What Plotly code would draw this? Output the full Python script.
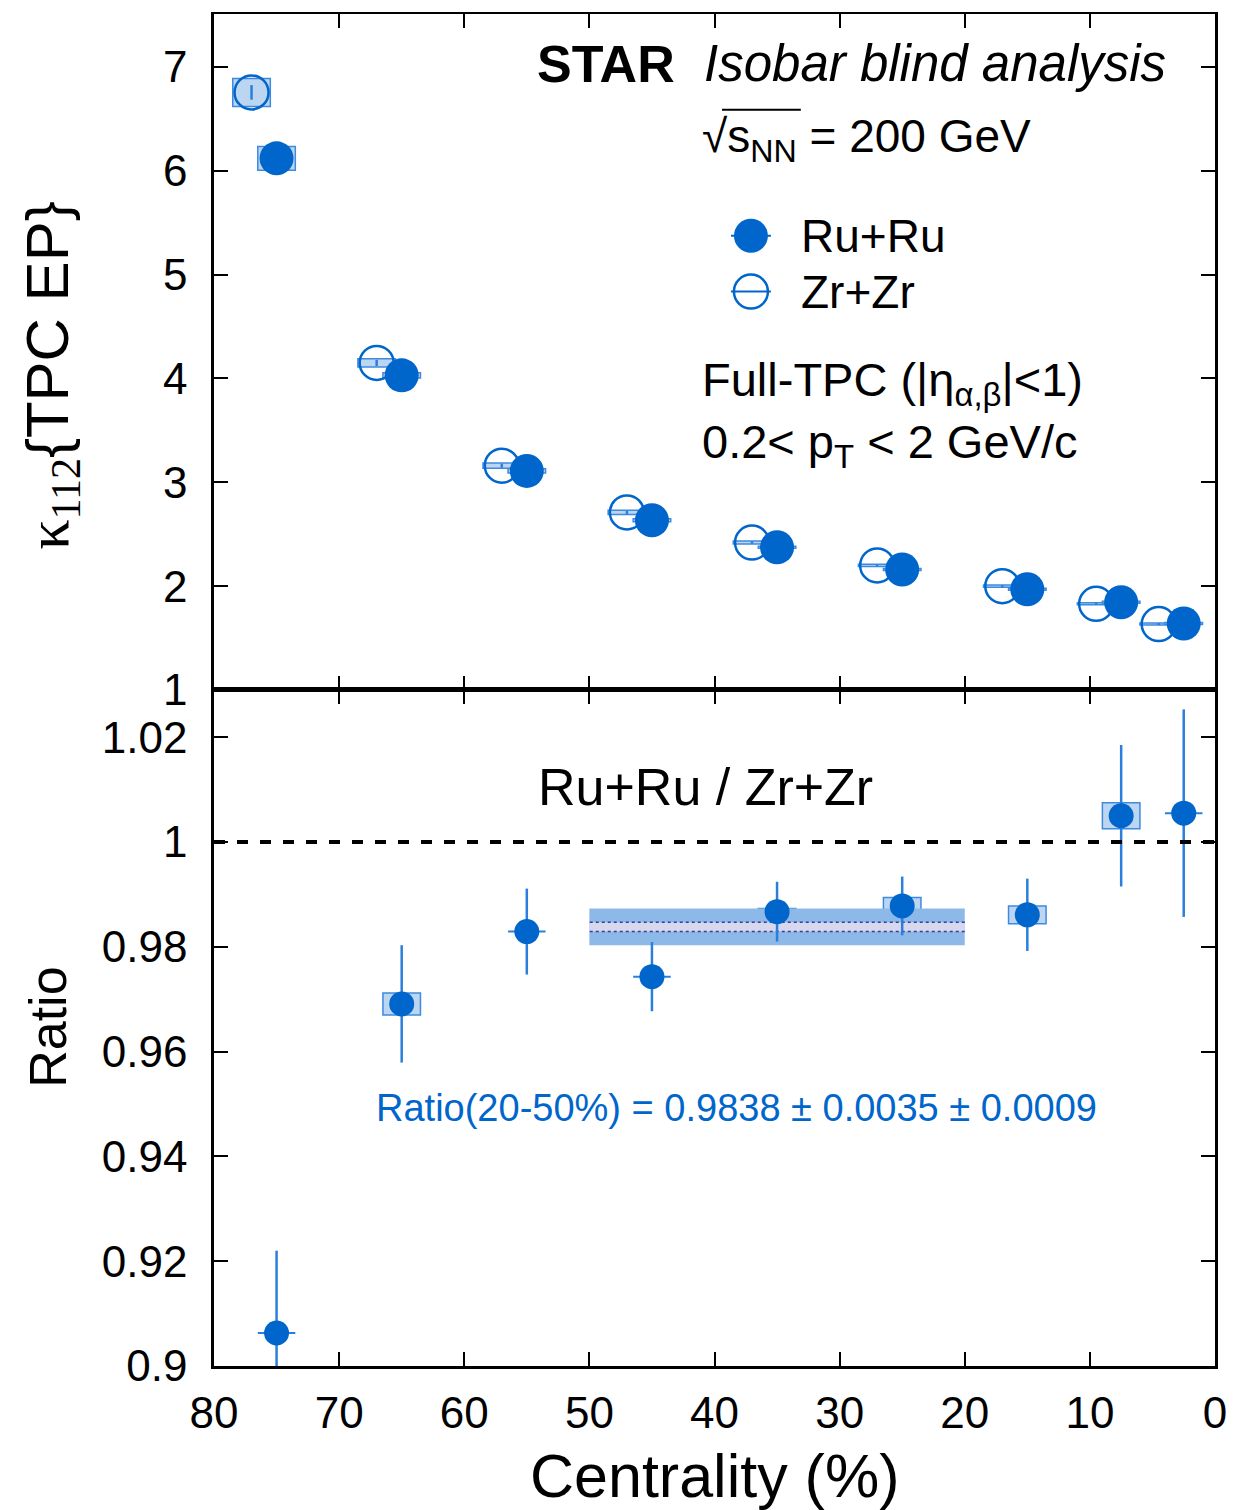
import plotly.graph_objects as go

# ---------------- data ----------------
cent_ru = [75, 65, 55, 45, 35, 25, 15, 7.5, 2.5]
cent_zr = [77, 67, 57, 47, 37, 27, 17, 9.5, 4.5]
kappa_ru = [6.12, 4.03, 3.11, 2.635, 2.375, 2.16, 1.97, 1.845, 1.64]
kappa_ru_stat = [0.06, 0.03, 0.02, 0.015, 0.012, 0.01, 0.01, 0.01, 0.01]
kappa_ru_sys = [0.115, 0.025, 0.02, 0.015, 0.01, 0.01, 0.01, 0.01, 0.01]
kappa_zr = [6.755, 4.15, 3.16, 2.71, 2.42, 2.20, 2.00, 1.83, 1.635]
kappa_zr_stat = [0.07, 0.03, 0.02, 0.015, 0.012, 0.01, 0.01, 0.01, 0.01]
kappa_zr_sys = [0.135, 0.04, 0.025, 0.02, 0.015, 0.01, 0.01, 0.01, 0.01]
sys_halfwidth = 1.5

ratio = [0.9063, 0.9691, 0.9829, 0.9743, 0.9867, 0.9878, 0.9861, 1.0050, 1.0055]
ratio_stat = [0.0157, 0.0112, 0.0082, 0.0066, 0.0057, 0.0056, 0.0069, 0.0135, 0.0198]
ratio_sys = [0.0, 0.0021, 0.0, 0.0, 0.0006, 0.0016, 0.0017, 0.0025, 0.0]

band_range = [20, 50]
band_value = 0.9838
band_stat = 0.0035
band_sys = 0.0009

x_ticks = [80, 70, 60, 50, 40, 30, 20, 10, 0]
x_ticktext = ["80", "70", "60", "50", "40", "30", "20", "10", "0"]
top_y_ticks = [1, 2, 3, 4, 5, 6, 7]
bot_y_ticks = [0.9, 0.92, 0.94, 0.96, 0.98, 1.0, 1.02]
bot_y_ticktext = ["0.9", "0.92", "0.94", "0.96", "0.98", "1", "1.02"]

# ---------------- styles ----------------
BLUE = "#0066cc"
ERR = "#2a7fdc"
BOXFILL = "#bcd6f2"
BOXLINE = "#3d8ae0"
FONT = "Liberation Sans, Arial, sans-serif"

W, H = 1239, 1510
L, R, T, B = 214, 22, 12, 144
PW, PH = W - L - R, H - T - B


def px(x):
    return (x - L) / PW


def py(y):
    return (H - B - y) / PH


fig = go.Figure()

# top panel
fig.add_trace(go.Scatter(
    x=cent_zr, y=kappa_zr, mode="markers", xaxis="x", yaxis="y",
    marker=dict(symbol="circle-open", size=34, color=BLUE, line=dict(width=2.5, color=BLUE)),
    error_y=dict(type="data", array=kappa_zr_stat, color=ERR, thickness=2.5, width=0),
    showlegend=False, name="Zr+Zr"))
fig.add_trace(go.Scatter(
    x=cent_ru, y=kappa_ru, mode="markers", xaxis="x", yaxis="y",
    marker=dict(symbol="circle", size=34, color=BLUE),
    error_y=dict(type="data", array=kappa_ru_stat, color=ERR, thickness=2.5, width=0),
    showlegend=False, name="Ru+Ru"))

# bottom panel
fig.add_trace(go.Scatter(
    x=cent_ru, y=ratio, mode="markers", xaxis="x2", yaxis="y2",
    marker=dict(symbol="circle", size=25, color=BLUE),
    error_y=dict(type="data", array=ratio_stat, color=ERR, thickness=2.5, width=0),
    showlegend=False, name="Ratio"))

shapes = []
# systematic boxes
for c, v, s in zip(cent_zr, kappa_zr, kappa_zr_sys):
    shapes.append(dict(type="rect", xref="x", yref="y", x0=c - sys_halfwidth, x1=c + sys_halfwidth,
                       y0=v - s, y1=v + s, fillcolor=BOXFILL, line=dict(color=BOXLINE, width=1.5), layer="below"))
for c, v, s in zip(cent_ru, kappa_ru, kappa_ru_sys):
    shapes.append(dict(type="rect", xref="x", yref="y", x0=c - sys_halfwidth, x1=c + sys_halfwidth,
                       y0=v - s, y1=v + s, fillcolor=BOXFILL, line=dict(color=BOXLINE, width=1.5), layer="below"))
for c, v, s in zip(cent_ru, ratio, ratio_sys):
    if s > 0:
        shapes.append(dict(type="rect", xref="x2", yref="y2", x0=c - sys_halfwidth, x1=c + sys_halfwidth,
                           y0=v - s, y1=v + s, fillcolor=BOXFILL, line=dict(color=BOXLINE, width=1.5),
                           layer="below"))
    else:
        shapes.append(dict(type="line", xref="x2", yref="y2", x0=c - sys_halfwidth, x1=c + sys_halfwidth,
                           y0=v, y1=v, line=dict(color=ERR, width=2), layer="below"))

# 20-50% band
shapes.append(dict(type="rect", xref="x2", yref="y2", x0=band_range[0], x1=band_range[1],
                   y0=band_value - band_stat, y1=band_value + band_stat,
                   fillcolor="#8cb9e8", line=dict(width=0), layer="below"))
shapes.append(dict(type="rect", xref="x2", yref="y2", x0=band_range[0], x1=band_range[1],
                   y0=band_value - band_sys, y1=band_value + band_sys,
                   fillcolor="#d8d8ec", line=dict(width=0), layer="below"))
for yv in (band_value - band_sys, band_value + band_sys):
    shapes.append(dict(type="line", xref="x2", yref="y2", x0=band_range[0], x1=band_range[1],
                       y0=yv, y1=yv, line=dict(color="#3a3aa8", width=1.5, dash="dot"), layer="below"))

# unity line
shapes.append(dict(type="line", xref="x2", yref="y2", x0=x_ticks[0], x1=x_ticks[-1], y0=1, y1=1,
                   line=dict(color="black", width=4, dash="11px,12px")))

# legend keys (drawn in pixel size)
for ycen, filled in ((234, True), (290, False)):
    shapes.append(dict(type="circle", xref="paper", yref="paper", xsizemode="pixel", ysizemode="pixel",
                       xanchor=px(752), yanchor=py(ycen), x0=-17, x1=17, y0=-17, y1=17,
                       fillcolor=BLUE if filled else "rgba(0,0,0,0)",
                       line=dict(color=BLUE, width=2.5 if not filled else 0)))
    shapes.append(dict(type="line", xref="paper", yref="paper", x0=px(732), x1=px(772),
                       y0=py(ycen), y1=py(ycen), line=dict(color=BLUE, width=2)))

# sqrt overline
shapes.append(dict(type="line", xref="paper", yref="paper", x0=px(723), x1=px(802),
                   y0=py(108), y1=py(108), line=dict(color="black", width=2)))


def ann(text, x, y, size, xanchor="left", color="black", textangle=0):
    return dict(text=text, xref="paper", yref="paper", x=px(x), y=py(y), xanchor=xanchor,
                yanchor="middle", showarrow=False, textangle=textangle,
                font=dict(family=FONT, size=size, color=color))


annotations = [
    ann("<b>STAR</b>", 536, 62, 52),
    ann("<i>Isobar blind analysis</i>", 703, 62, 51),
    ann("√s<sub>NN</sub> = 200 GeV", 701, 138, 46),
    ann("Ru+Ru", 800, 234, 46),
    ann("Zr+Zr", 800, 290, 46),
    ann("Full-TPC (|η<sub>α,β</sub>|<1)", 701, 382, 47),
    ann("0.2< p<sub>T</sub> < 2 GeV/c", 701, 444, 47),
    ann("Ru+Ru / Zr+Zr", 706, 786, 52, xanchor="center"),
    ann("Ratio(20-50%) = 0.9838 ± 0.0035 ± 0.0009", 738, 1108, 38, xanchor="center", color=BLUE),
    ann("Centrality (%)", 715, 1476, 61, xanchor="center"),
    ann("<span style='font-family:Liberation Serif, Times New Roman, serif'>κ<sub>112</sub></span>{TPC EP}",
        52, 374, 60, xanchor="center", textangle=-90),
    ann("Ratio", 47, 1027, 52, xanchor="center", textangle=-90),
]

axis_common = dict(showline=True, linecolor="black", linewidth=2.5, mirror="allticks",
                   ticks="inside", ticklen=14, tickwidth=1.5, tickcolor="black",
                   showgrid=False, zeroline=False,
                   tickfont=dict(family=FONT, size=44, color="black"))

fig.update_layout(
    width=W, height=H,
    margin=dict(l=L, r=R, t=T, b=B),
    paper_bgcolor="white", plot_bgcolor="white",
    showlegend=False,
    xaxis=dict(axis_common, domain=[0, 1], anchor="y", range=[80, 0], tickvals=x_ticks,
               showticklabels=False, matches="x2", linewidth=1.5),
    yaxis=dict(axis_common, domain=[0.5, 1], anchor="x", range=[1, 7.51], tickvals=top_y_ticks,
               ticklabelstandoff=15),
    xaxis2=dict(axis_common, domain=[0, 1], anchor="y2", range=[80, 0], tickvals=x_ticks,
                ticktext=x_ticktext, ticklabelstandoff=6),
    yaxis2=dict(axis_common, domain=[0, 0.5], anchor="x2", range=[0.9, 1.029], tickvals=bot_y_ticks,
                ticktext=bot_y_ticktext, ticklabelstandoff=15),
    shapes=shapes,
    annotations=annotations,
)

fig.write_html("out.html", config={"displayModeBar": False},
               post_script="document.body.style.margin='0';document.body.style.overflow='hidden';")
